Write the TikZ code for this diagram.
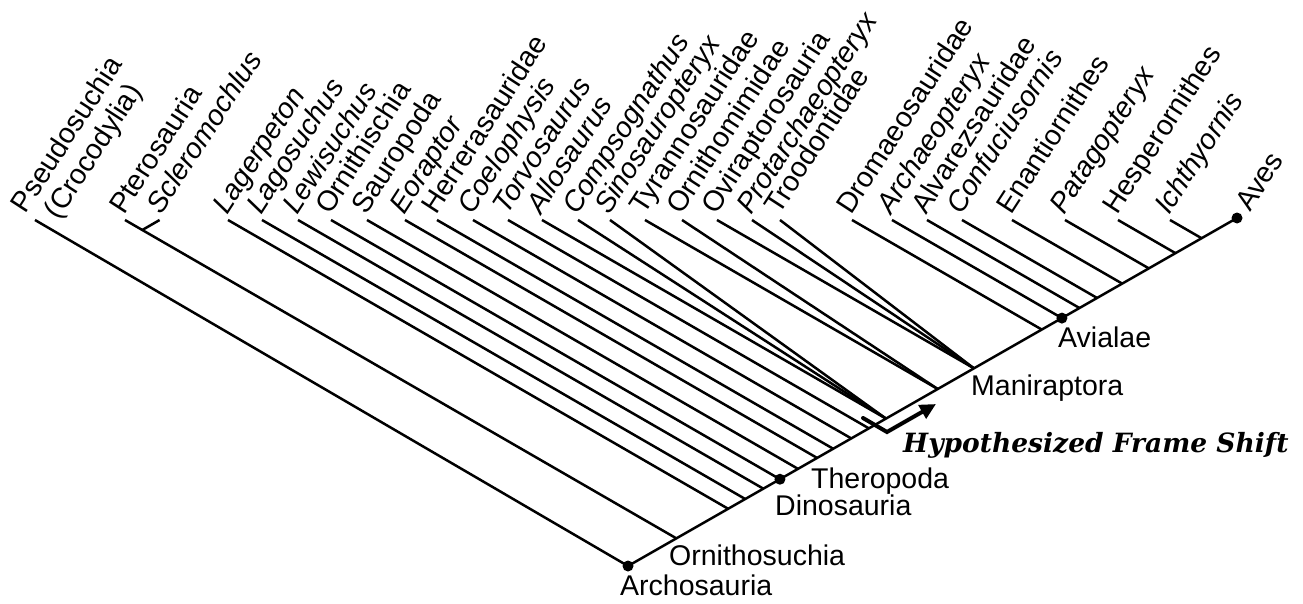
\documentclass[tikz,border=0pt]{standalone}
\usepackage{fontspec}
\setmainfont{Liberation Sans}
\newfontfamily\fsfont{DejaVu Serif}
\usetikzlibrary{arrows.meta}
\begin{document}
\begin{tikzpicture}[x=1pt,y=-1pt,
  br/.style={line width=2.5pt},
  dotn/.style={circle,fill=black,inner sep=0pt,minimum size=11pt},
  tax/.style={anchor=base west,inner sep=0pt,rotate=57,font=\fontsize{28.5}{31}\selectfont},
  clade/.style={anchor=base west,inner sep=0pt,font=\fontsize{28.5}{31}\selectfont},
  shiftarrow/.style={line width=4pt,line cap=round,line join=miter,-{Triangle[length=16pt,width=15pt]}},
  shifttext/.style={anchor=base west,inner sep=0pt,font=\fsfont\bfseries\itshape\fontsize{26.5}{30}\selectfont}
]
\useasboundingbox (0,0) rectangle (1303,603);
% spine
\coordinate (s0) at (628,566);
\coordinate (s1) at (1237,218);
\coordinate (tpseu) at (35,220);
% tips and natural nodes
\foreach \n/\x in {ptero/125, lager/228, lago/262, lewi/298, orni/331, sauro/367,
  eora/405, herre/437, coelo/473, torvo/508, allo/542, comps/578, sino/610,
  tyr/645, ornm/682, ovi/717, prot/752, troo/780, dro/852, arc/892, alv/927,
  con/962, ena/1012, pat/1065, hes/1118, ich/1170} {
  \coordinate (t\n) at (\x,220);
  \path (t\n) ++(866,500) coordinate (f\n);
  \coordinate (n\n) at (intersection of s0--s1 and t\n--f\n);
}
% Scleromochlus on the Pterosauria branch
\path (tptero) ++(17.3,10) coordinate (nscl);
\path (nscl) ++(17.3,-10) coordinate (tscl);

% branches
\draw[br] (s0) -- (s1);
\draw[br] (tpseu) -- (s0);
\foreach \n in {ptero, lager, lago, lewi, orni, sauro, eora, herre, coelo, torvo,
  allo, tyr, ovi, dro, arc, alv, con, ena, pat, hes, ich} {
  \draw[br] (t\n) -- (n\n);
}
\draw[br] (tcomps) -- (nallo);
\draw[br] (tsino) -- (nallo);
\draw[br] (tornm) -- (ntyr);
\draw[br] (tprot) -- (novi);
\draw[br] (ttroo) -- (novi);
\draw[br] (nscl) -- (tscl);

% dots
\node[dotn] (darch) at (s0) {};
\node[dotn] (ddino) at (norni) {};
\node[dotn] (davi) at (narc) {};
\node[dotn] (daves) at (s1) {};

% taxon labels
\node[tax,anchor=south west,align=center] (lpseu) at (57,235) {Pseudosuchia\\(Crocodylia)};
\node[tax] (lscl) at (161,216) {\itshape Scleromochlus};
\foreach \n/\x/\s/\t in {ptero/125/\upshape/Pterosauria, lager/228/\itshape/Lagerpeton,
  lago/262/\itshape/Lagosuchus, lewi/298/\itshape/Lewisuchus, orni/331/\upshape/Ornithischia,
  sauro/367/\upshape/Sauropoda, eora/405/\itshape/Eoraptor, herre/437/\upshape/Herrerasauridae,
  coelo/473/\itshape/Coelophysis, torvo/508/\itshape/Torvosaurus, allo/542/\itshape/Allosaurus,
  comps/578/\itshape/Compsognathus, sino/610/\itshape/Sinosauropteryx,
  tyr/645/\upshape/Tyrannosauridae, ornm/682/\upshape/Ornithomimidae,
  ovi/717/\upshape/Oviraptorosauria, prot/752/\itshape/Protarchaeopteryx,
  troo/780/\upshape/Troodontidae, dro/852/\upshape/Dromaeosauridae,
  arc/892/\itshape/Archaeopteryx, alv/927/\upshape/Alvarezsauridae,
  con/962/\itshape/Confuciusornis, ena/1012/\upshape/Enantiornithes,
  pat/1065/\itshape/Patagopteryx, hes/1118/\upshape/Hesperornithes,
  ich/1170/\itshape/Ichthyornis} {
  \node[tax] (l\n) at (\x-1,216) {\s\t};
}
\node[tax] (laves) at (1250,213) {Aves};

% clade labels
\node[clade] (cOrs) at (669,565) {Ornithosuchia};
\node[clade] (cArc) at (620,595) {Archosauria};
\node[clade] (cThe) at (811,488) {Theropoda};
\node[clade] (cDin) at (775,515) {Dinosauria};
\node[clade] (cMan) at (971,395) {Maniraptora};
\node[clade] (cAvi) at (1058,347) {Avialae};

% frame shift
\coordinate (fsA) at (863,418);
\coordinate (fsB) at (887,432);
\coordinate (fsC) at (936,404);
\draw[shiftarrow] (fsA) -- (fsB) -- (fsC);
\node[shifttext] (fs) at (903,452) {Hypothesized Frame Shift};
\end{tikzpicture}
\end{document}
